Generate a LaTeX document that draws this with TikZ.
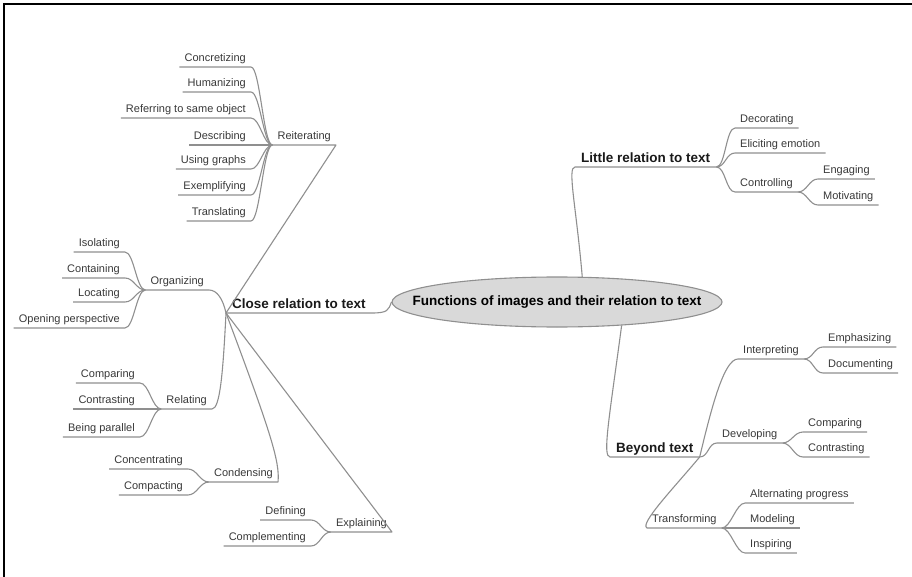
\documentclass[tikz,border=0pt]{standalone}
\usepackage{fontspec}
\setmainfont{Liberation Sans}
\usetikzlibrary{shapes.geometric}
\definecolor{branchgray}{HTML}{8F8F8F}
\definecolor{rootgray}{HTML}{D9D9D9}
\definecolor{labelgray}{HTML}{383838}

\begin{document}
\begin{tikzpicture}[x=1pt, y=-1pt,
  br/.style={draw=branchgray, line width=1.1pt, line join=round},
  lc/.style={to path={.. controls +(-9,0) and +(9,0) .. (\tikztotarget)}},
  rc/.style={to path={.. controls +(9,0) and +(-9,0) .. (\tikztotarget)}},
  root/.style={ellipse, draw=branchgray, line width=1.1pt, fill=rootgray, minimum width=330pt, minimum height=50pt, inner sep=0pt, font=\bfseries\fontsize{13.5}{16}\selectfont},
  topic/.style={inner xsep=6pt, inner ysep=1.5pt, text height=10pt, text depth=3pt, font=\bfseries\fontsize{13.5}{16}\selectfont, text=black!90},
  lab/.style={inner xsep=5pt, inner ysep=2.5pt, text height=8pt, text depth=2.5pt, font=\fontsize{11}{13}\selectfont, text=labelgray},
  lft/.style={lab, anchor=south east},
  rgt/.style={lab, anchor=south west}]
\useasboundingbox (0,0) rectangle (912,577);
\draw[line width=2.5pt] (4,577) -- (4,4) -- (912,4);

% centre and main topics
\node[root] (root) at (557,302) {\makebox[0pt]{Functions of images and their relation to text}};
\node[topic, anchor=south west] (close) at (226,313) {Close relation to text};
\node[topic, anchor=south west] (little) at (575,167) {Little relation to text};
\node[topic, anchor=south west] (beyond) at (610,457) {Beyond text};
\draw[br] (close.south west) -- (close.south east) .. controls +(16,0) and +(-3,8) .. (root.west);
\draw[br] (root.45) .. controls +(-6,-70) and +(-8,0) .. (little.south west) -- (little.south east);
\draw[br] (root.-20) .. controls +(-12,90) and +(-8,0) .. (beyond.south west) -- (beyond.south east);

% close relation to text
\node[lft] (reit) at (336,145) {Reiterating};
\node[lft] (org) at (209,290) {Organizing};
\node[lft] (rel) at (212,409) {Relating};
\node[lft] (cond) at (278,482) {Condensing};
\node[lft] (expl) at (392,532) {Explaining};
\draw[br] (close.south west) -- (reit.south east) -- (reit.south west);
\draw[br] (close.south west) .. controls +(-3,-14) and +(8,0) .. (org.south east) -- (org.south west);
\draw[br] (close.south west) .. controls +(-3,60) and +(8,0) .. (rel.south east) -- (rel.south west);
\draw[br] (close.south west) .. controls +(45,120) and +(2,-20) .. (cond.south east) -- (cond.south west);
\draw[br] (close.south west) -- (expl.south east) -- (expl.south west);

\node[lft] (conc) at (251,67) {Concretizing};
\node[lft] (hum) at (251,92) {Humanizing};
\node[lft] (refer) at (251,118) {Referring to same object};
\node[lft] (desc) at (251,145) {Describing};
\node[lft] (graph) at (251,169) {Using graphs};
\node[lft] (exem) at (251,195) {Exemplifying};
\node[lft] (trans) at (251,221) {Translating};
\draw[br] (reit.south west) to[lc] (conc.south east) -- (conc.south west);
\draw[br] (reit.south west) to[lc] (hum.south east) -- (hum.south west);
\draw[br] (reit.south west) to[lc] (refer.south east) -- (refer.south west);
\draw[br] (reit.south west) to[lc] (desc.south east) -- (desc.south west);
\draw[br] (reit.south west) to[lc] (graph.south east) -- (graph.south west);
\draw[br] (reit.south west) to[lc] (exem.south east) -- (exem.south west);
\draw[br] (reit.south west) to[lc] (trans.south east) -- (trans.south west);

\node[lft] (iso) at (125,252) {Isolating};
\node[lft] (cont) at (125,278) {Containing};
\node[lft] (loc) at (125,302) {Locating};
\node[lft] (persp) at (125,328) {Opening perspective};
\draw[br] (org.south west) to[lc] (iso.south east) -- (iso.south west);
\draw[br] (org.south west) to[lc] (cont.south east) -- (cont.south west);
\draw[br] (org.south west) to[lc] (loc.south east) -- (loc.south west);
\draw[br] (org.south west) to[lc] (persp.south east) -- (persp.south west);

\node[lft] (lcmp) at (140,383) {Comparing};
\node[lft] (lctr) at (140,409) {Contrasting};
\node[lft] (para) at (140,437) {Being parallel};
\draw[br] (rel.south west) to[lc] (lcmp.south east) -- (lcmp.south west);
\draw[br] (rel.south west) to[lc] (lctr.south east) -- (lctr.south west);
\draw[br] (rel.south west) to[lc] (para.south east) -- (para.south west);

\node[lft] (concen) at (188,469) {Concentrating};
\node[lft] (compa) at (188,495) {Compacting};
\draw[br] (cond.south west) to[lc] (concen.south east) -- (concen.south west);
\draw[br] (cond.south west) to[lc] (compa.south east) -- (compa.south west);

\node[lft] (defi) at (311,520) {Defining};
\node[lft] (compl) at (311,546) {Complementing};
\draw[br] (expl.south west) to[lc] (defi.south east) -- (defi.south west);
\draw[br] (expl.south west) to[lc] (compl.south east) -- (compl.south west);

% little relation to text
\node[rgt] (deco) at (735,128) {Decorating};
\node[rgt] (elic) at (735,153) {Eliciting emotion};
\node[rgt] (ctrl) at (735,192) {Controlling};
\node[rgt] (engag) at (818,179) {Engaging};
\node[rgt] (motiv) at (818,205) {Motivating};
\draw[br] (little.south east) to[rc] (deco.south west) -- (deco.south east);
\draw[br] (little.south east) to[rc] (elic.south west) -- (elic.south east);
\draw[br] (little.south east) to[rc] (ctrl.south west) -- (ctrl.south east);
\draw[br] (ctrl.south east) to[rc] (engag.south west) -- (engag.south east);
\draw[br] (ctrl.south east) to[rc] (motiv.south west) -- (motiv.south east);

% beyond text
\node[rgt] (interp) at (738,359) {Interpreting};
\node[rgt] (dev) at (717,443) {Developing};
\node[rgt] (transf) at (647,528) {Transforming};
\draw[br] (beyond.south east) .. controls +(12,-50) and +(-14,0) .. (interp.south west) -- (interp.south east);
\draw[br] (beyond.south east) to[rc] (dev.south west) -- (dev.south east);
\draw[br] (beyond.south east) .. controls +(-25,30) and +(-8,-4) .. (transf.south west) -- (transf.south east);

\node[rgt] (emph) at (823,347) {Emphasizing};
\node[rgt] (docu) at (823,373) {Documenting};
\draw[br] (interp.south east) to[rc] (emph.south west) -- (emph.south east);
\draw[br] (interp.south east) to[rc] (docu.south west) -- (docu.south east);

\node[rgt] (rcmp) at (803,432) {Comparing};
\node[rgt] (rctr) at (803,457) {Contrasting};
\draw[br] (dev.south east) to[rc] (rcmp.south west) -- (rcmp.south east);
\draw[br] (dev.south east) to[rc] (rctr.south west) -- (rctr.south east);

\node[rgt] (alt) at (745,503) {Alternating progress};
\node[rgt] (model) at (745,528) {Modeling};
\node[rgt] (insp) at (745,553) {Inspiring};
\draw[br] (transf.south east) to[rc] (alt.south west) -- (alt.south east);
\draw[br] (transf.south east) to[rc] (model.south west) -- (model.south east);
\draw[br] (transf.south east) to[rc] (insp.south west) -- (insp.south east);
\end{tikzpicture}
\end{document}
